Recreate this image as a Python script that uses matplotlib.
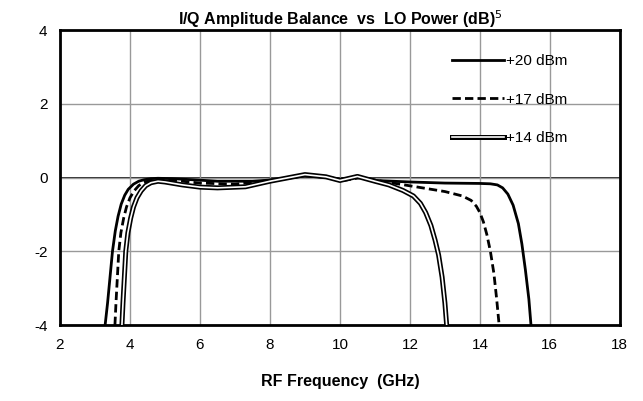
import matplotlib.pyplot as plt
import matplotlib.patheffects as pe

# Data
f_20 = [3.29, 3.36, 3.43, 3.5, 3.58, 3.66, 3.75, 3.85, 3.95, 4.1, 4.25, 4.4, 4.6, 4.8, 5.2, 5.8,
        6.5, 7.5, 8.3, 9.0, 9.7, 10.0, 10.5, 11.0, 12.0, 13.0, 14.0, 14.3, 14.5, 14.65, 14.8,
        14.95, 15.1, 15.2, 15.3, 15.4, 15.46]
a_20 = [-4, -3.4, -2.7, -2.0, -1.45, -1.05, -0.72, -0.48, -0.32, -0.18, -0.1, -0.06, -0.03, -0.02,
        -0.03, -0.06, -0.1, -0.1, -0.05, 0.05, 0.0, -0.05, 0.02, -0.08, -0.12, -0.15, -0.16,
        -0.17, -0.2, -0.28, -0.45, -0.75, -1.25, -1.8, -2.5, -3.3, -4]

f_17 = [3.57, 3.6, 3.64, 3.68, 3.74, 3.82, 3.9, 4.0, 4.12, 4.25, 4.4, 4.6, 4.8, 5.0, 5.5, 6.0,
        7.0, 8.0, 9.0, 9.7, 10.1, 10.6, 11.2, 12.1, 13.0, 13.5, 13.75, 13.9, 14.0, 14.1, 14.2,
        14.3, 14.4, 14.48, 14.55]
a_17 = [-4, -3.4, -2.7, -2.0, -1.5, -1.1, -0.8, -0.55, -0.36, -0.22, -0.13, -0.07, -0.05, -0.05,
        -0.1, -0.15, -0.18, -0.08, 0.05, 0.0, -0.08, 0.0, -0.1, -0.24, -0.38, -0.5, -0.62, -0.78,
        -0.95, -1.2, -1.55, -2.0, -2.6, -3.3, -4]

f_14 = [3.77, 3.8, 3.84, 3.88, 3.94, 4.02, 4.1, 4.2, 4.32, 4.45, 4.6, 4.8, 5.0, 5.5, 6.0, 6.5,
        7.3, 8.0, 9.0, 9.6, 10.0, 10.5, 11.0, 11.4, 11.8, 12.1, 12.3, 12.45, 12.6, 12.72, 12.82,
        12.92, 13.0, 13.05]
a_14 = [-4, -3.4, -2.7, -2.0, -1.5, -1.1, -0.8, -0.55, -0.36, -0.22, -0.14, -0.1, -0.12, -0.2,
        -0.26, -0.28, -0.25, -0.1, 0.08, 0.02, -0.08, 0.03, -0.1, -0.2, -0.35, -0.5, -0.7, -0.95,
        -1.3, -1.7, -2.1, -2.7, -3.4, -4]

plt.rcParams['font.family'] = ['Liberation Sans', 'DejaVu Sans']
plt.rcParams['axes.unicode_minus'] = False

fig = plt.figure(figsize=(6.43, 4.01), dpi=100)
ax = fig.add_axes([0.0933, 0.1895, 0.8707, 0.7355])

ax.grid(True, color='#999999', linewidth=1)
ax.axhline(0, color='black', linewidth=1.2, zorder=1.5)

ax.plot(f_20, a_20, color='black', linewidth=2, label='+20 dBm', zorder=3)
ax.plot(f_17, a_17, color='black', linewidth=2, linestyle=(0, (3, 1.5)), label='+17 dBm', zorder=3)
ax.plot(f_14, a_14, color='white', linewidth=1.2, label='+14 dBm', zorder=3,
        path_effects=[pe.Stroke(linewidth=3.6, foreground='black'), pe.Normal()])

ax.set_xlim(2, 18)
ax.set_ylim(-4, 4)
ax.set_xticks(range(2, 19, 2))
ax.set_yticks(range(-4, 5, 2))
ax.tick_params(length=0, labelsize=11, pad=9)
for s in ax.spines.values():
    s.set_linewidth(2)

ax.set_title('I/Q Amplitude Balance  vs  LO Power (dB)$^5$', fontsize=11.5, fontweight='bold', pad=3)
ax.set_xlabel('RF Frequency  (GHz)', fontsize=11.5, fontweight='bold', labelpad=16)

ax.legend(loc='upper right', frameon=False, fontsize=11, handlelength=3.4,
          handletextpad=0.1, labelspacing=1.6, bbox_to_anchor=(0.93, 0.965))

plt.savefig('out.png', dpi=100)
